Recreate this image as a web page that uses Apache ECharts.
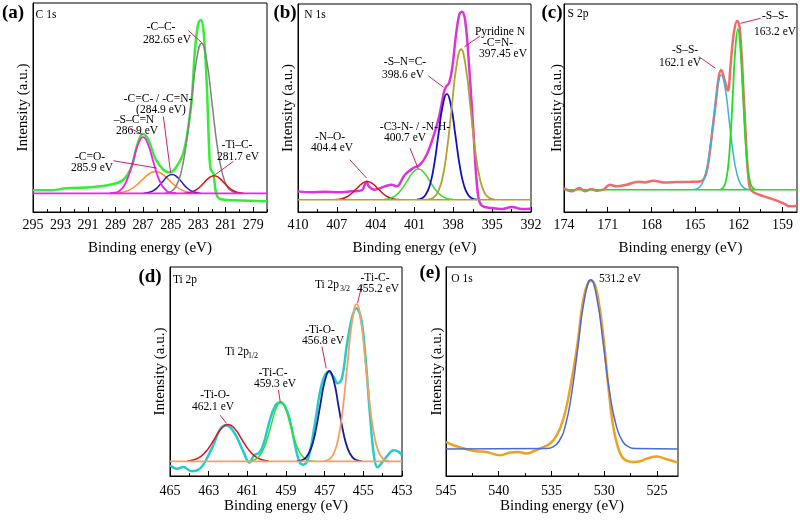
<!DOCTYPE html>
<html><head><meta charset="utf-8">
<script src="https://cdn.jsdelivr.net/npm/echarts@6/dist/echarts.min.js"></script>
<style>html,body{margin:0;padding:0;background:#fff}#c{width:800px;height:523px}</style>
</head><body><div id="c"></div>
<script>
// ---------- (a) C 1s ----------
const c1sTicks = [295,293,291,289,287,285,283,281,279];
const c1sMinor = [294,292,290,288,286,284,282,280,278];
const c1sRawE = [295,293.76,292.55,290.62,289.4,288.44,287.83,287.46,287.03,286.62,286.13,285.53,285.05,284.56,284.08,283.71,283.47,283.23,282.99,282.81,282.62,282.38,282.21,282.09,281.9,281.7,281.41,280.44,278];
const c1sRawI = [65,65,71,75,82,97,137,197,234,217,162,127,119,137,177,257,337,487,567,577,547,387,197,127,117,57,39,35,32];
const c1sSCN_E = [289.42,289.07,288.73,288.38,288.04,287.69,287.35,287.0,286.66,286.31,285.97,285.62,285.28,284.93,284.59];
const c1sSCN_I = [56.4,57.9,63.4,78.9,110.9,158.5,205.1,225,205.1,158.5,110.9,78.9,63.4,57.9,56.4];
const c1sCO_E = [289.04,288.55,288.06,287.57,287.08,286.59,286.1,285.61,285.12,284.63,284.14,283.65,283.16];
const c1sCO_I = [56.7,58.9,64.9,77.4,96,114.2,122,114.2,96,77.4,64.9,58.9,56.7];
const c1sCeqC_E = [286.97,286.62,286.28,285.94,285.59,285.25,284.9,284.56,284.21,283.87,283.52,283.18,282.83];
const c1sCeqC_I = [56.6,58.5,63.7,74.5,90.6,106.3,113,106.3,90.6,74.5,63.7,58.5,56.6];
const c1sCC_E = [285.38,285.0,284.63,284.25,283.88,283.5,283.13,282.75,282.38,282.0,281.63,281.25,280.88,280.5,280.13];
const c1sCC_I = [57,61,75.8,117,202.4,329.5,454,507,454,329.5,202.4,117,75.8,61,57];
const c1sTiC_E = [284.01,283.65,283.29,282.93,282.57,282.21,281.85,281.49,281.13,280.77,280.41,280.05,279.69];
const c1sTiC_I = [56.6,58.3,63.2,73.2,88.1,102.8,109,102.8,88.1,73.2,63.2,58.3,56.6];
const c1sBaseE = [295,278];
const c1sBaseI = [56,56];

// ---------- (b) N 1s ----------
const n1sTicks = [410,407,404,401,398,395,392];
const n1sMinor = [408.5,405.5,402.5,399.5,396.5,393.5];
const n1sRawE = [410,408.97,407.93,406.9,405.87,405.09,404.84,404.71,404.53,404.06,403.29,402.77,402.38,401.74,401.09,400.58,400.06,399.54,399.1,398.77,398.59,398.33,398.07,397.81,397.55,397.35,397.09,396.78,396.44,396.11,395.8,395.02,394.25,393.47,392.7,392];
const n1sRawI = [62,59,61,59,62,65,82,92,77,67,77,82,77,112,132,142,172,227,287,352,375,387,437,527,592,602,577,437,237,57,19,12,9,15,9,10];
const n1sNO_E = [407.11,406.7,406.29,405.88,405.47,405.06,404.65,404.24,403.83,403.42,403.01,402.6,402.19];
const n1sNO_I = [37.6,39.4,44.4,54.9,70.4,85.5,92,85.5,70.4,54.9,44.4,39.4,37.6];
const n1sC3N_E = [403.34,402.9,402.46,402.02,401.58,401.14,400.7,400.26,399.82,399.38,398.94,398.5,398.06];
const n1sC3N_I = [38,41,49.4,66.9,92.8,118.2,129,118.2,92.8,66.9,49.4,41,38];
const n1sSNC_E = [400.81,400.48,400.15,399.82,399.49,399.16,398.83,398.5,398.17,397.84,397.51,397.18,396.85,396.52,396.19];
const n1sSNC_I = [37.7,40.5,51,80,140.3,229.9,317.6,355,317.6,229.9,140.3,80,51,40.5,37.7];
const n1sPyr_E = [399.96,399.59,399.23,398.86,398.5,398.13,397.77,397.4,397.04,396.67,396.31,395.94,395.58,395.21,394.85];
const n1sPyr_I = [38,42,56.8,98.2,183.8,311.1,435.9,489,435.9,311.1,183.8,98.2,56.8,42,38];
const n1sBaseE = [410,392];
const n1sBaseI = [37,37];

// ---------- (c) S 2p ----------
const s2pTicks = [174,171,168,165,162,159];
const s2pMinor = [172.5,169.5,166.5,163.5,160.5];
const s2pRawE = [174,173.49,172.92,172.57,172.11,171.77,171.31,170.85,170.39,169.7,168.89,168.43,167.86,167.17,166.25,165.33,164.64,164.36,164.13,163.83,163.56,163.37,163.21,162.98,162.75,162.57,162.34,162.11,161.95,161.76,161.53,161.3,161.07,160.27,159.58,158.89,158.54,158];
const s2pRawI = [72,62,72,62,69,64,67,82,77,82,91,89,94,89,90,91,92,102,137,237,337,407,427,397,365,437,537,575,557,437,237,87,62,47,37,25,17,19];
const s2pA_E = [165.09,164.82,164.55,164.28,164.01,163.74,163.47,163.2,162.93,162.66,162.39,162.12,161.85,161.58,161.31];
const s2pA_I = [67.8,70.8,82.1,113.7,179,276.2,371.5,412,371.5,276.2,179,113.7,82.1,70.8,67.8];
const s2pB_E = [163.25,163.08,162.91,162.74,162.57,162.4,162.23,162.06,161.89,161.72,161.55,161.38,161.21,161.04,160.87];
const s2pB_I = [68,72.4,88.2,132.2,223.5,359.3,492.4,549,492.4,359.3,223.5,132.2,88.2,72.4,68];
const s2pBaseE = [174,158];
const s2pBaseI = [67,67];

// ---------- (d) Ti 2p ----------
const ti2pTicks = [465,463,461,459,457,455,453];
const ti2pMinor = [464,462,460,458,456,454];
const ti2pRawE = [465,464.65,464.31,463.88,463.45,463.1,462.76,462.41,462.12,461.86,461.55,461.2,460.89,460.65,460.37,460.13,459.86,459.56,459.3,459.04,458.78,458.53,458.3,458.09,457.83,457.49,457.14,456.8,456.54,456.33,456.11,455.85,455.59,455.37,455.12,454.9,454.64,454.43,454.26,454.04,453.74,453.43,453.17,453];
const ti2pRawI = [32,22,27,14,22,52,92,140,152,144,117,72,40,62,70,102,162,210,220,207,162,92,42,34,57,162,277,312,297,277,292,392,472,502,472,362,172,52,26,40,62,77,72,62];
const ti2pO1_E = [464.1,463.75,463.4,463.05,462.7,462.35,462.0,461.65,461.3,460.95,460.6,460.25,459.9];
const ti2pO1_I = [45.2,48.8,58.9,79.7,110.7,141.1,154,141.1,110.7,79.7,58.9,48.8,45.2];
const ti2pC1_E = [461.02,460.77,460.52,460.27,460.02,459.77,459.52,459.27,459.02,458.77,458.52,458.27,458.02,457.77,457.52];
const ti2pC1_I = [44.4,46,51.8,68.1,101.8,152,201.1,222,201.1,152,101.8,68.1,51.8,46,44.4];
const ti2pO3_E = [458.44,458.2,457.96,457.72,457.48,457.24,457.0,456.76,456.52,456.28,456.04,455.8,455.56,455.32,455.08];
const ti2pO3_I = [44.6,47,55.9,80.5,131.7,207.8,282.3,314,282.3,207.8,131.7,80.5,55.9,47,44.6];
const ti2pC3_E = [457.03,456.79,456.55,456.31,456.07,455.83,455.59,455.35,455.11,454.87,454.63,454.39,454.15,453.91,453.67];
const ti2pC3_I = [45,49.2,64.6,107.6,196.6,329.1,458.8,514,458.8,329.1,196.6,107.6,64.6,49.2,45];
const ti2pBaseE = [465,453];
const ti2pBaseI = [44,44];

// ---------- (e) O 1s ----------
const o1sTicks = [545,540,535,530,525];
const o1sMinor = [542.5,537.5,532.5,527.5];
const o1sRawE = [545,544.3,543.04,542.09,541.14,539.87,538.92,538.13,537.34,536.71,536.08,535.13,534.49,533.86,533.23,532.59,531.96,531.49,531.17,530.7,530.06,529.59,529.11,528.48,527.85,527.22,526.58,525.95,525,524.05,523];
const o1sRawI = [102,92,80,74,72,62,70,72,67,74,82,97,122,172,262,382,532,580,584,552,412,262,142,67,45,42,44,52,58,50,40];
const o1sFitE = [545,535.51,534.9,534.3,533.69,533.09,532.48,531.88,531.27,530.67,530.06,529.46,528.85,528.25,527.64,527.04,523];
const o1sFitI = [81,82.1,86.6,103.2,149.5,245.3,387.9,527.5,587,527.5,387.9,245.3,149.5,103.2,86.6,82.1,81];

// arrows [startE, startI, endE, endI]
const c1sArrows = [[283.71,545,282.74,509],[285.53,287,285.0,117],[287.95,252,287.03,232],[289.16,154,286.01,132],[280.44,152,281.77,112]];
const n1sArrows = [[395.93,529,397.14,497],[399.93,409,398.77,375],[401.35,192,400.7,129],[406.0,157,404.7,102]];
const s2pArrows = [[164.75,467,163.6,432],[160.5,582,161.88,567]];
const ti2pArrows = [[455.07,572,455.3,517],[457.14,387,456.92,322],[459.39,257,459.30,222],[462.41,182,462.07,157]];

const FONT = '"Liberation Serif","Times New Roman",serif';
const ARROW = '#c8246e';
const zip = (e, i) => e.map((v, k) => [v, i[k]]);

const panels = [
  {left:33, top:3, width:234, height:209, min:278, max:295, ymax:628, ticks:c1sTicks, minor:c1sMinor, lm:6, ng:29, yg:2},
  {left:298, top:4, width:233, height:208, min:392, max:410, ymax:625, ticks:n1sTicks, minor:n1sMinor, lm:6, ng:29, yg:2},
  {left:564, top:4, width:233, height:208, min:158, max:174, ymax:625, ticks:s2pTicks, minor:s2pMinor, lm:6, ng:29, yg:-1},
  {left:170, top:267, width:232, height:209, min:453, max:465, ymax:625, ticks:ti2pTicks, minor:ti2pMinor, lm:8, ng:20, yg:2},
  {left:446, top:267, width:232, height:209, min:523, max:545, ymax:625, ticks:o1sTicks, minor:o1sMinor, lm:8, ng:20, yg:1}
];

const grid = panels.map(p => ({left:p.left, top:p.top, width:p.width, height:p.height, show:true, borderColor:'#000', borderWidth:1, backgroundColor:'transparent'}));
const xAxis = [];
panels.forEach((p, k) => xAxis.push({
  type:'value', gridIndex:k, min:p.min, max:p.max, inverse:true, position:'bottom',
  name:'Binding energy (eV)', nameLocation:'middle', nameGap:p.ng,
  nameTextStyle:{fontFamily:FONT, fontSize:15, color:'#000'},
  axisLine:{show:true, onZero:false, lineStyle:{color:'#000', width:1}},
  axisTick:{show:true, inside:true, length:5, customValues:p.ticks, lineStyle:{color:'#000'}},
  axisLabel:{show:true, margin:p.lm, customValues:p.ticks, fontFamily:FONT, fontSize:14, color:'#000'},
  splitLine:{show:false}
}));
panels.forEach((p, k) => xAxis.push({
  type:'value', gridIndex:k, min:p.min, max:p.max, inverse:true, position:'bottom', offset:0,
  axisLine:{show:false, onZero:false},
  axisTick:{show:true, inside:true, length:3, customValues:p.minor, lineStyle:{color:'#000'}},
  axisLabel:{show:false}, splitLine:{show:false}
}));
const yAxis = panels.map((p, k) => ({
  type:'value', gridIndex:k, min:0, max:p.ymax,
  name:'Intensity (a.u.)', nameLocation:'middle', nameGap:p.yg, nameRotate:90,
  nameTextStyle:{fontFamily:FONT, fontSize:15, color:'#000'},
  axisLine:{show:true, onZero:false, lineStyle:{color:'#000'}},
  axisTick:{show:false}, axisLabel:{show:false}, splitLine:{show:false}
}));

function ln(k, data, color, width, smooth, arrows) {
  const s = {type:'line', xAxisIndex:k, yAxisIndex:k, data:data, showSymbol:false, symbol:'none',
    smooth:smooth, lineStyle:{color:color, width:width}, itemStyle:{color:color}, silent:true, animation:false, clip:true};
  if (arrows) {
    s.markLine = {silent:true, animation:false, symbol:['none','arrow'], symbolSize:[0,7], label:{show:false},
      lineStyle:{color:ARROW, width:1, type:'solid'},
      data: arrows.map(a => [{coord:[a[0],a[1]]},{coord:[a[2],a[3]]}])};
  }
  return s;
}

const series = [
  ln(0, zip(c1sRawE, c1sRawI), '#33ee33', 2.5, 0.4),
  ln(0, zip(c1sCO_E, c1sCO_I), '#ff8c1a', 1.5, 0.5),
  ln(0, zip(c1sCeqC_E, c1sCeqC_I), '#1a1acc', 1.5, 0.5),
  ln(0, zip(c1sCC_E, c1sCC_I), '#808080', 1.5, 0.5),
  ln(0, zip(c1sTiC_E, c1sTiC_I), '#dd1111', 1.5, 0.5),
  ln(0, zip(c1sSCN_E, c1sSCN_I), '#ee22ee', 1.8, 0.5),
  ln(0, zip(c1sBaseE, c1sBaseI), '#ee22ee', 1.8, false, c1sArrows),

  ln(1, zip(n1sRawE, n1sRawI), '#dd33dd', 2.5, 0.4),
  ln(1, zip(n1sNO_E, n1sNO_I), '#dd1111', 1.5, 0.5),
  ln(1, zip(n1sC3N_E, n1sC3N_I), '#33dd33', 1.5, 0.5),
  ln(1, zip(n1sSNC_E, n1sSNC_I), '#1111bb', 1.8, 0.5),
  ln(1, zip(n1sPyr_E, n1sPyr_I), '#b5a030', 1.8, 0.5),
  ln(1, zip(n1sBaseE, n1sBaseI), '#b5a030', 1.5, false, n1sArrows),

  ln(2, zip(s2pRawE, s2pRawI), '#f26a6a', 2.5, 0.4),
  ln(2, zip(s2pA_E, s2pA_I), '#3ab4d8', 1.5, 0.5),
  ln(2, zip(s2pB_E, s2pB_I), '#22dd22', 1.8, 0.5),
  ln(2, zip(s2pBaseE, s2pBaseI), '#22dd22', 1.5, false, s2pArrows),

  ln(3, zip(ti2pRawE, ti2pRawI), '#22cccc', 2.5, 0.4),
  ln(3, zip(ti2pO1_E, ti2pO1_I), '#dd1122', 1.5, 0.5),
  ln(3, zip(ti2pC1_E, ti2pC1_I), '#33dd33', 1.5, 0.5),
  ln(3, zip(ti2pO3_E, ti2pO3_I), '#1a1a99', 1.8, 0.5),
  ln(3, zip(ti2pC3_E, ti2pC3_I), '#f5a060', 1.8, 0.5),
  ln(3, zip(ti2pBaseE, ti2pBaseI), '#f5a060', 1.8, false, ti2pArrows),

  ln(4, zip(o1sRawE, o1sRawI), '#f0a020', 2.5, 0.4),
  ln(4, zip(o1sFitE, o1sFitI), '#4a6ad8', 1.5, 0.5)
];

const notes = [
  ['(a)', 13, 13, 'bold 19px ' + FONT], ['(b)', 285, 13, 'bold 19px ' + FONT], ['(c)', 552, 13, 'bold 19px ' + FONT],
  ['(d)', 150, 277, 'bold 19px ' + FONT], ['(e)', 430, 273, 'bold 19px ' + FONT],
  ['C 1s', 46, 15], ['N 1s', 315, 15], ['S 2p', 578, 14], ['Ti 2p', 185, 280], ['O 1s', 462, 279],
  ['-C\u2013C-', 161, 27], ['282.65 eV', 167, 40],
  ['-C=C- / -C=N-', 158, 99], ['(284.9 eV)', 161, 110],
  ['\u2013S\u2013C=N', 134, 120], ['286.9 eV', 137, 131],
  ['-C=O-', 90, 157], ['285.9 eV', 92, 168],
  ['-Ti\u2013C-', 237, 145], ['281.7 eV', 238, 157],
  ['Pyridine N', 500, 32], ['-C=N-', 498, 43], ['397.45 eV', 503, 54],
  ['-S\u2013N=C-', 405, 62], ['398.6 eV', 403, 75],
  ['-C3-N- / -N-H-', 415, 127], ['400.7 eV', 405, 138],
  ['-N\u2013O-', 330, 137], ['404.4 eV', 332, 148],
  ['-S\u2013S-', 685, 50], ['162.1 eV', 680, 63],
  ['-S\u2013S-', 775, 16], ['163.2 eV', 775, 32],
  ['-Ti-C-', 375, 278], ['455.2 eV', 378, 289],
  ['-Ti-O-', 320, 330], ['456.8 eV', 323, 341],
  ['-Ti-C-', 273, 373], ['459.3 eV', 275, 384],
  ['-Ti-O-', 215, 395], ['462.1 eV', 213, 407],
  ['531.2 eV', 620, 279],
  ['Ti 2p', 327, 285], ['3/2', 345, 289, '8px ' + FONT],
  ['Ti 2p', 237, 352], ['1/2', 253, 356, '8px ' + FONT]
];
const graphic = notes.map(n => ({type:'text', x:n[1], y:n[2], silent:true, z:100,
  style:{text:n[0], font:n[3] || ('11.5px ' + FONT), fill:'#000', textAlign:'center', textVerticalAlign:'middle'}}));

const chart = echarts.init(document.getElementById('c'), null, {renderer:'canvas'});
chart.setOption({backgroundColor:'#fff', animation:false, grid, xAxis, yAxis, series, graphic});
</script></body></html>
